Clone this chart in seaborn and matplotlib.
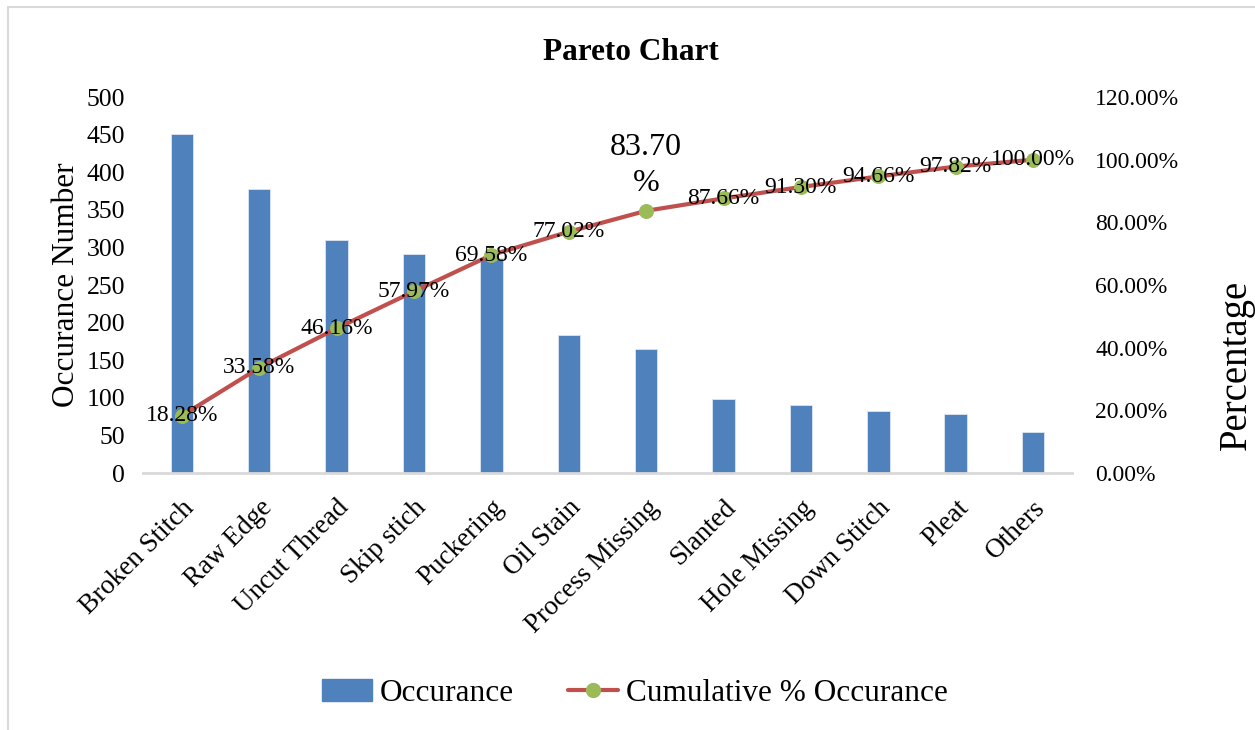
import numpy as np
import pandas as pd
import seaborn as sns
import matplotlib
matplotlib.use("Agg")
import matplotlib.pyplot as plt
from matplotlib.lines import Line2D
from matplotlib.patches import Patch
from matplotlib.ticker import MultipleLocator, FuncFormatter

# Defect categories, counts and cumulative share
categories = ["Broken Stitch", "Raw Edge", "Uncut Thread", "Skip stich", "Puckering",
              "Oil Stain", "Process Missing", "Slanted", "Hole Missing", "Down Stitch",
              "Pleat", "Others"]
occurance = [451, 378, 310, 291, 286, 184, 165, 98, 90, 83, 78, 54]
cumulative_pct = [18.28, 33.58, 46.16, 57.97, 69.58, 77.02, 83.70, 87.66, 91.30,
                  94.66, 97.82, 100.00]

BLUE = "#4F81BD"
RED = "#C0504D"
GREEN = "#9BBB59"
GRID = "#D9D9D9"

sns.set_theme(style="white")
plt.rcParams["font.family"] = ["Liberation Serif", "DejaVu Serif"]
plt.rcParams["text.color"] = "black"
plt.rcParams["axes.labelcolor"] = "black"
plt.rcParams["xtick.color"] = "black"
plt.rcParams["ytick.color"] = "black"

df = pd.DataFrame({"pos": np.arange(len(categories)), "category": categories,
                   "count": occurance, "cum": np.array(cumulative_pct) / 100.0})

fig = plt.figure(figsize=(12.55, 7.3), dpi=100)
ax = fig.add_axes([0.114, 0.352, 0.740, 0.515])

sns.barplot(data=df, x="category", y="count", color=BLUE, width=0.29,
            saturation=1, ax=ax, edgecolor="#DCE6F2", linewidth=0.6)
ax.set_ylim(0, 500)
ax.yaxis.set_major_locator(MultipleLocator(50))
ax.set_xlim(-0.5, len(categories) - 0.5)
ax.set_xlabel("")
ax.set_ylabel("Occurance Number", fontsize=22.5, labelpad=4)
ax.tick_params(axis="y", length=0, labelsize=18.5, pad=13)
ax.tick_params(axis="x", length=0, labelsize=19.5, pad=16)
for lab in ax.get_xticklabels():
    lab.set_rotation(45)
    lab.set_ha("right")
    lab.set_rotation_mode("anchor")
for s in ["left", "right", "top"]:
    ax.spines[s].set_visible(False)
ax.spines["bottom"].set_color(GRID)
ax.spines["bottom"].set_linewidth(2)

ax2 = ax.twinx()
sns.lineplot(data=df, x="pos", y="cum", ax=ax2, color=RED, linewidth=3.0,
             marker="o", markersize=10, markerfacecolor=GREEN,
             markeredgecolor=GREEN, sort=False, legend=False)
ax2.set_ylim(0, 1.2)
ax2.yaxis.set_major_locator(MultipleLocator(0.2))
ax2.yaxis.set_major_formatter(FuncFormatter(lambda v, p: f"{v * 100:.2f}%"))
ax2.tick_params(axis="y", length=0, labelsize=17, pad=17)
ax2.set_ylabel("")
for s in ax2.spines.values():
    s.set_visible(False)
ax2.set_xlim(-0.5, len(categories) - 0.5)

# Secondary axis title
fig.text(1236 / 1255, 0.5, "Percentage", rotation=90, ha="center", va="center",
         fontsize=28)

# Data labels on the cumulative line
for x, v in zip(df["pos"], cumulative_pct):
    if abs(v - 83.70) < 1e-9:
        ax2.text(x, v / 100.0 + 0.145, f"{v:.2f}\n%", ha="center", va="center",
                 fontsize=23, linespacing=1.3)
    else:
        ax2.text(x, v / 100.0, f"{v:.2f}%", ha="center", va="center", fontsize=17)

fig.suptitle("Pareto Chart", x=0.503, y=0.948, fontsize=22.5, fontweight="bold")

handles = [Patch(facecolor=BLUE, edgecolor=BLUE),
           Line2D([0], [0], color=RED, lw=3.0, marker="o", markersize=10,
                  markerfacecolor=GREEN, markeredgecolor=GREEN)]
fig.legend(handles, ["Occurance", "Cumulative % Occurance"], loc="center",
           bbox_to_anchor=(0.506, 0.05), ncol=2, frameon=False, fontsize=22.5,
           handlelength=1.6, handletextpad=0.25, columnspacing=1.75)

# Chart-area frame (left and top edges)
fig.add_artist(Line2D([8 / 1255, 8 / 1255], [0, 1 - 7 / 730], color=GRID, lw=1.5,
                      transform=fig.transFigure))
fig.add_artist(Line2D([8 / 1255, 1], [1 - 7 / 730, 1 - 7 / 730], color=GRID, lw=1.5,
                      transform=fig.transFigure))

fig.savefig("out.png", dpi=100, facecolor="white")
